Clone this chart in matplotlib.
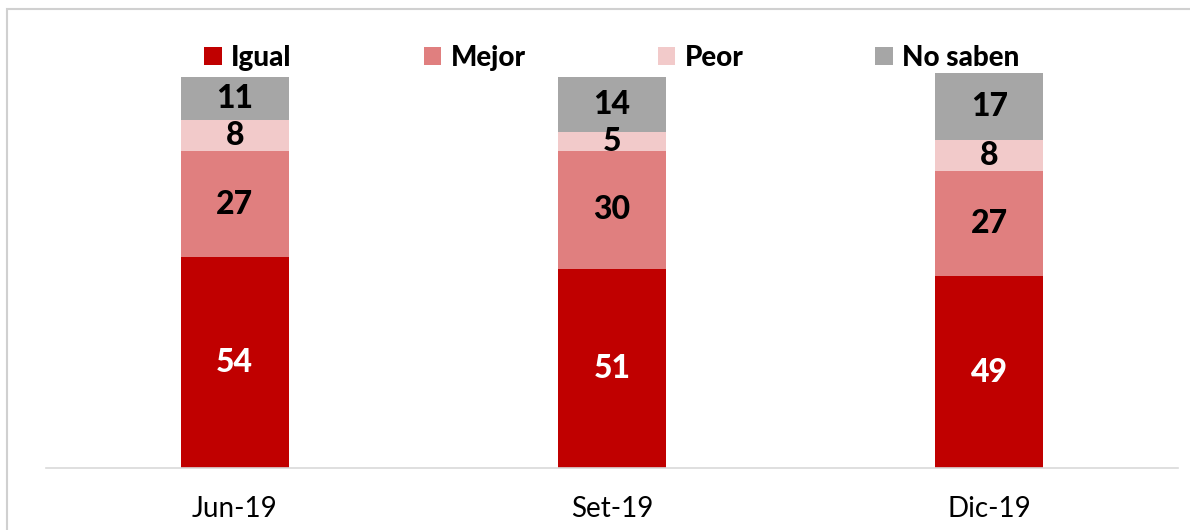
import numpy as np
import matplotlib.pyplot as plt
from matplotlib.patches import Rectangle

plt.rcParams['font.family'] = ['Lato', 'DejaVu Sans']

periodos = ['Jun-19', 'Set-19', 'Dic-19']
series = ['Igual', 'Mejor', 'Peor', 'No saben']
igual = [54, 51, 49]
mejor = [27, 30, 27]
peor = [8, 5, 8]
no_saben = [11, 14, 17]

colores = ['#C00000', '#E07F7F', '#F2CACA', '#A6A6A6']
color_txt = ['white', 'black', 'black', 'black']

fig = plt.figure(figsize=(11.9, 5.3), dpi=100)
ax = fig.add_axes([46/1190, 1 - 468/530, 1132/1190, 391/530])

x = np.arange(len(periodos))
base = np.zeros(len(periodos))
for nombre, vals, col, tc in zip(series, [igual, mejor, peor, no_saben], colores, color_txt):
    vals = np.array(vals, dtype=float)
    bars = ax.bar(x, vals, 0.287, bottom=base, color=col, label=nombre, clip_on=False)
    for b, v, y0 in zip(bars, vals, base):
        ax.text(b.get_x() + b.get_width() / 2, y0 + v / 2, f'{v:.0f}',
                ha='center', va='center', color=tc, fontsize=23, fontweight='black')
    base += vals

ax.set_xlim(-0.5, 2.5)
ax.set_ylim(0, 100)
ax.set_yticks([])
ax.set_xticks(x)
ax.set_xticklabels(periodos, fontsize=20)
ax.tick_params(axis='x', length=0, pad=20)
for s in ['top', 'right', 'left']:
    ax.spines[s].set_visible(False)
ax.spines['bottom'].set_color('#D9D9D9')
ax.spines['bottom'].set_linewidth(1.2)

fig.legend(loc='center', bbox_to_anchor=(612/1190, 1 - 58/530), ncol=4, frameon=False,
           prop={'size': 20, 'weight': 'black'}, handlelength=0.62, handleheight=0.62,
           handletextpad=0.35, columnspacing=4.75)

# marco exterior
fig.patches.append(Rectangle((7/1190, -0.1), 1.2, 1 - 9/530 + 0.1, transform=fig.transFigure,
                             fill=False, edgecolor='#D0D0D0', linewidth=1.5))

plt.savefig('out.png', dpi=100)
